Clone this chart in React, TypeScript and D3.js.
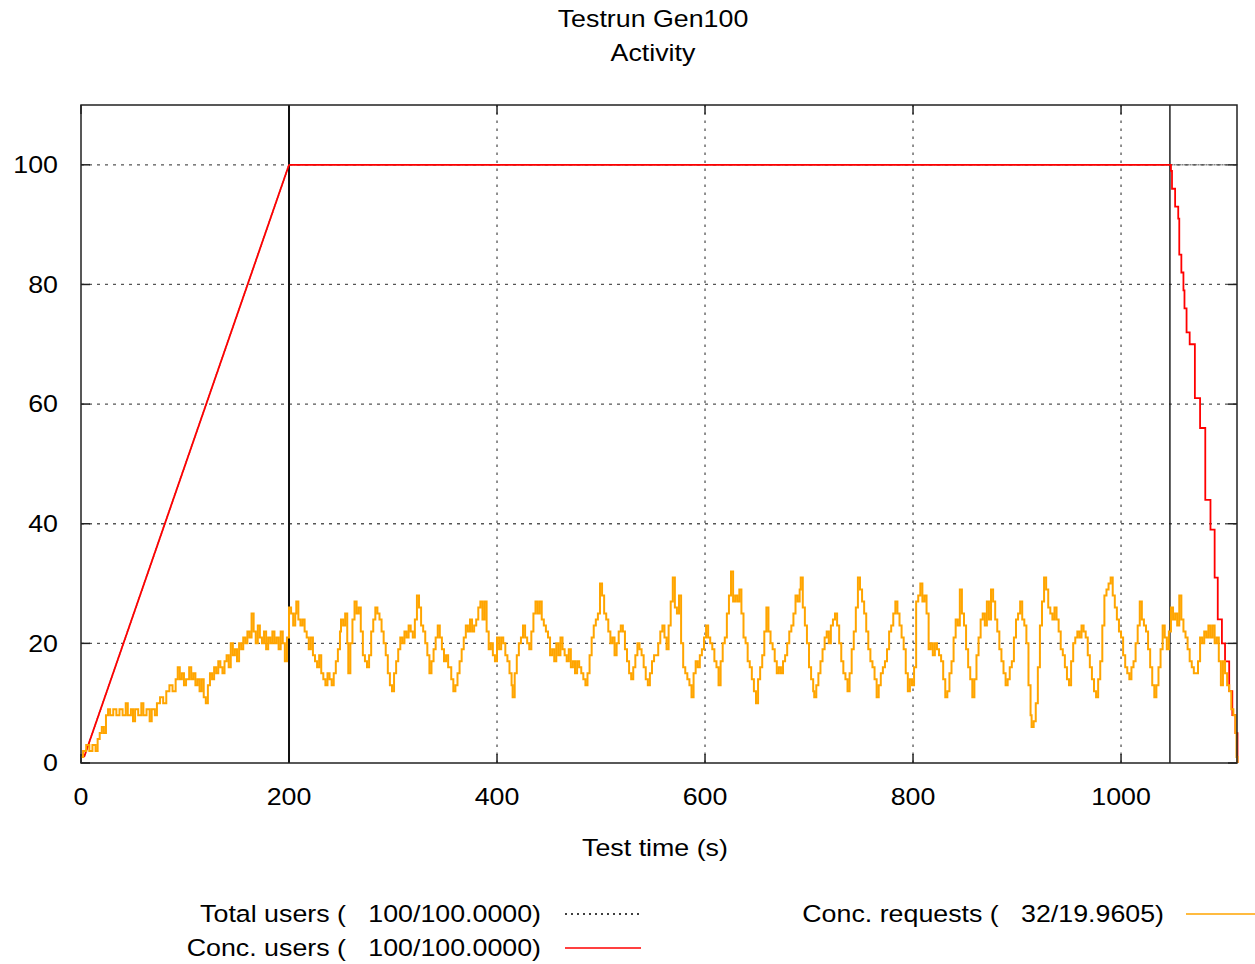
import React from 'react';
import * as d3 from 'd3';

// chart text
const titleLines = ['Testrun Gen100', 'Activity'];
const xLabel = 'Test time (s)';
const xTicks = [0, 200, 400, 600, 800, 1000];
const yTicks = [0, 20, 40, 60, 80, 100];
const phaseMarks = [200, 1047];

// Total users (dotted) : [time, users]
const totalUsers: [number, number][] = [
  [3, 1], [200, 100], [1112, 100],
];

// Conc. users (red) : ramp-up, then plateau and ramp-down
const concUsersRamp: [number, number][] = [
  [3, 1], [200, 100],
];
const concUsersDown: [number, number][] = [
  [200, 100], [1047, 100], [1048, 99], [1049, 96], [1052, 93], [1055, 91], [1056, 85], [1058, 82],
  [1060, 79], [1061, 76], [1063, 72], [1066, 70], [1071, 61], [1076, 56], [1081, 44], [1086, 39],
  [1090, 31], [1093, 24], [1097, 20], [1100, 17], [1104, 12], [1107, 8], [1110, 5], [1112, 0],
];

// Conc. requests (orange) : [time, requests]
const concRequests: [number, number][] = [
  [0, 1], [2, 2], [5, 3], [8, 2], [11, 3], [14, 2], [16, 4], [18, 5], [20, 6], [22, 5],
  [24, 8], [26, 9], [28, 8], [31, 9], [34, 8], [37, 9], [40, 8], [43, 10], [45, 8], [48, 9],
  [50, 7], [52, 9], [55, 8], [58, 10], [60, 8], [63, 9], [66, 7], [68, 9], [71, 8], [73, 10],
  [76, 11], [79, 10], [82, 12], [85, 13], [88, 12], [91, 14], [93, 16], [95, 14], [97, 15], [99, 13],
  [101, 14], [104, 16], [106, 14], [108, 15], [110, 13], [112, 14], [114, 12], [116, 14], [118, 11], [120, 10],
  [122, 13], [124, 15], [126, 14], [128, 16], [130, 15], [132, 17], [134, 16], [136, 15], [138, 17], [140, 18],
  [142, 16], [144, 20], [146, 18], [148, 19], [150, 17], [152, 20], [154, 19], [156, 21], [158, 20], [160, 22],
  [162, 21], [164, 25], [166, 22], [168, 20], [170, 23], [172, 21], [174, 20], [176, 22], [178, 19], [180, 21],
  [182, 20], [184, 22], [186, 20], [188, 21], [190, 19], [192, 22], [194, 20], [196, 17], [198, 21], [200, 26],
  [202, 25], [204, 23], [206, 25], [207, 27], [209, 24], [211, 23], [213, 24], [215, 22], [217, 21], [219, 19],
  [221, 21], [223, 18], [225, 17], [227, 16], [229, 18], [231, 15], [233, 14], [235, 13], [237, 15], [239, 14],
  [241, 13], [243, 15], [245, 17], [247, 19], [249, 22], [250, 24], [252, 23], [254, 25], [256, 20], [257, 15],
  [259, 20], [261, 24], [263, 27], [265, 25], [267, 26], [269, 22], [271, 18], [273, 17], [275, 16], [277, 18],
  [279, 22], [281, 24], [283, 26], [285, 25], [287, 24], [289, 22], [291, 20], [293, 18], [295, 15], [297, 13],
  [299, 12], [301, 15], [303, 17], [305, 19], [307, 21], [309, 20], [311, 22], [313, 21], [315, 23], [317, 22],
  [319, 21], [321, 24], [323, 28], [325, 26], [327, 23], [329, 22], [331, 20], [333, 18], [335, 15], [337, 17],
  [339, 19], [341, 21], [343, 23], [345, 21], [347, 19], [349, 17], [351, 18], [353, 16], [356, 14], [358, 12],
  [360, 13], [362, 15], [364, 17], [366, 19], [368, 21], [370, 23], [372, 22], [374, 24], [376, 22], [378, 23],
  [380, 24], [382, 26], [384, 27], [386, 24], [388, 27], [390, 22], [392, 19], [394, 20], [396, 18], [398, 17],
  [400, 21], [402, 19], [404, 21], [406, 20], [408, 18], [410, 17], [412, 15], [414, 13], [415, 11], [417, 15],
  [419, 18], [421, 20], [423, 21], [425, 23], [427, 21], [429, 20], [431, 19], [433, 22], [435, 25], [437, 27],
  [439, 25], [441, 27], [443, 24], [445, 23], [447, 22], [449, 21], [451, 18], [453, 19], [455, 17], [457, 20],
  [459, 18], [461, 21], [463, 19], [465, 18], [467, 17], [469, 19], [471, 16], [473, 17], [475, 15], [477, 17],
  [479, 16], [481, 15], [483, 14], [485, 13], [487, 15], [489, 18], [491, 21], [493, 23], [495, 24], [497, 25],
  [499, 30], [501, 28], [503, 25], [505, 24], [507, 22], [509, 20], [511, 21], [513, 18], [515, 20], [517, 22],
  [519, 23], [521, 22], [523, 19], [525, 17], [527, 15], [529, 14], [531, 16], [533, 18], [535, 20], [537, 19],
  [539, 18], [541, 16], [543, 14], [545, 13], [547, 15], [549, 17], [551, 18], [553, 18], [555, 20], [557, 22],
  [559, 23], [561, 21], [563, 19], [565, 23], [567, 27], [569, 31], [571, 26], [573, 25], [575, 28], [577, 20],
  [579, 16], [581, 15], [583, 14], [585, 13], [587, 11], [589, 15], [591, 17], [593, 16], [595, 18], [597, 19],
  [599, 21], [601, 23], [603, 21], [605, 20], [607, 19], [609, 17], [611, 16], [613, 13], [615, 17], [617, 20],
  [619, 21], [621, 25], [623, 28], [625, 32], [627, 27], [629, 28], [631, 27], [633, 29], [635, 25], [637, 21],
  [639, 20], [641, 17], [643, 16], [645, 14], [647, 12], [649, 10], [651, 14], [653, 16], [655, 18], [657, 22],
  [659, 26], [661, 22], [663, 20], [665, 19], [667, 17], [669, 15], [671, 16], [673, 15], [675, 17], [677, 18],
  [679, 20], [681, 22], [683, 23], [685, 25], [687, 28], [689, 27], [691, 29], [692, 31], [694, 26], [696, 23],
  [698, 20], [700, 16], [702, 14], [704, 12], [705, 11], [707, 13], [709, 15], [711, 17], [713, 19], [715, 21],
  [717, 22], [719, 20], [721, 23], [723, 24], [725, 25], [727, 23], [729, 20], [731, 17], [733, 15], [735, 14],
  [737, 12], [739, 15], [741, 19], [743, 22], [745, 26], [747, 31], [749, 29], [751, 27], [753, 25], [755, 22],
  [757, 19], [759, 17], [761, 16], [763, 14], [765, 11], [767, 13], [769, 15], [771, 16], [773, 17], [775, 19],
  [777, 22], [779, 23], [781, 25], [783, 27], [785, 25], [787, 23], [789, 21], [791, 19], [793, 15], [795, 12],
  [797, 14], [799, 13], [801, 16], [803, 27], [805, 28], [807, 30], [809, 27], [811, 28], [813, 25], [815, 19],
  [817, 20], [819, 18], [821, 20], [823, 19], [825, 18], [827, 17], [829, 14], [831, 11], [833, 12], [835, 15],
  [837, 17], [839, 21], [841, 24], [843, 23], [845, 29], [847, 25], [849, 23], [851, 19], [853, 16], [855, 14],
  [857, 11], [859, 14], [861, 18], [863, 21], [865, 24], [867, 25], [869, 23], [871, 27], [873, 24], [875, 29],
  [877, 27], [879, 24], [881, 22], [883, 19], [885, 17], [887, 15], [889, 13], [891, 14], [893, 16], [895, 17],
  [897, 21], [899, 24], [901, 25], [903, 27], [905, 24], [907, 23], [909, 20], [911, 13], [913, 8], [914, 6],
  [916, 7], [918, 10], [920, 16], [922, 23], [924, 27], [926, 31], [928, 29], [930, 26], [932, 25], [934, 24],
  [936, 26], [938, 24], [940, 22], [942, 19], [944, 18], [946, 16], [948, 14], [950, 13], [952, 17], [954, 20],
  [956, 21], [958, 22], [960, 21], [962, 23], [964, 22], [966, 21], [968, 18], [970, 16], [972, 14], [974, 12],
  [976, 11], [978, 14], [980, 17], [982, 23], [984, 28], [986, 29], [988, 30], [990, 31], [992, 28], [994, 26],
  [996, 24], [998, 22], [1000, 21], [1002, 18], [1004, 16], [1006, 15], [1008, 14], [1010, 16], [1012, 17], [1014, 20],
  [1016, 23], [1018, 27], [1020, 24], [1022, 23], [1024, 22], [1026, 19], [1028, 16], [1030, 13], [1032, 11], [1034, 13],
  [1036, 16], [1038, 19], [1040, 23], [1042, 21], [1044, 19], [1046, 22], [1048, 26], [1050, 24], [1052, 25], [1054, 23],
  [1056, 28], [1058, 24], [1060, 22], [1062, 21], [1064, 19], [1066, 17], [1068, 16], [1070, 15], [1072, 15], [1074, 17],
  [1076, 21], [1078, 20], [1080, 22], [1082, 21], [1084, 23], [1086, 21], [1088, 23], [1090, 20], [1092, 21], [1094, 17],
  [1096, 13], [1098, 17], [1100, 15], [1102, 13], [1104, 12], [1106, 9], [1108, 8], [1110, 5], [1111, 1], [1112, 0],
];

const legendLeft = [
  { label: 'Total users (   100/100.0000)', color: '#000', dash: '2,4' },
  { label: 'Conc. users (   100/100.0000)', color: '#ff0000', dash: null },
];
const legendRight = [
  { label: 'Conc. requests (   32/19.9605)', color: '#ffa500', dash: null },
];

const W = 1255;
const H = 964;
const FONT = '"Liberation Sans", Arial, sans-serif';
const FS = 23.5;
const SX = 1.14; // text is a bit wider than normal

function Label({ x, y, anchor = 'middle', children }: any) {
  return (
    <text
      transform={`translate(${x},${y}) scale(${SX},1)`}
      textAnchor={anchor}
      dominantBaseline="central"
      fontFamily={FONT}
      fontSize={FS}
      fill="#000"
      style={{ whiteSpace: 'pre' }}
    >
      {children}
    </text>
  );
}

export default function App() {
  const x = d3.scaleLinear().domain([0, 1111.5]).range([81, 1237]);
  const y = d3.scaleLinear().domain([0, 110]).range([763, 105]);
  const [x0, x1] = x.range();
  const [y0, y1] = y.range();

  const lineLin = d3.line<[number, number]>().x(d => x(d[0])).y(d => y(d[1]));
  const lineStep = d3.line<[number, number]>().x(d => x(d[0])).y(d => y(d[1])).curve(d3.curveStepAfter);

  const tick = 9;

  return (
    <svg width={W} height={H} style={{ position: 'absolute', left: 0, top: 0, background: '#fff' }}>
      {/* grid */}
      <g stroke="#555" strokeWidth={1.3} fill="none">
        {yTicks.filter(t => t > 0).map(t => (
          <line key={'gy' + t} x1={x0} x2={x1} y1={y(t)} y2={y(t)} strokeDasharray="3,5" />
        ))}
        {xTicks.filter(t => t > 0).map(t => (
          <line key={'gx' + t} x1={x(t)} x2={x(t)} y1={y0} y2={y1} strokeDasharray="2.5,5.5" />
        ))}
      </g>

      {/* ticks, mirrored */}
      <g stroke="#222" strokeWidth={1.5}>
        {yTicks.map(t => (
          <g key={'ty' + t}>
            <line x1={x0} x2={x0 + tick} y1={y(t)} y2={y(t)} />
            <line x1={x1} x2={x1 - tick} y1={y(t)} y2={y(t)} />
          </g>
        ))}
        {xTicks.map(t => (
          <g key={'tx' + t}>
            <line x1={x(t)} x2={x(t)} y1={y0} y2={y0 - tick} />
            <line x1={x(t)} x2={x(t)} y1={y1} y2={y1 + tick} />
          </g>
        ))}
      </g>

      {/* phase markers */}
      {phaseMarks.map((t, i) => (
        <line key={'pm' + t} x1={x(t)} x2={x(t)} y1={y0} y2={y1} stroke="#111" strokeWidth={i === 0 ? 2 : 1.4} />
      ))}

      {/* series */}
      <path d={lineLin(totalUsers) || ''} fill="none" stroke="#444" strokeWidth={1.4} strokeDasharray="1,1" />
      <path d={lineLin(concUsersRamp) || ''} fill="none" stroke="#ff0000" strokeWidth={1.8} />
      <path d={lineStep(concUsersDown) || ''} fill="none" stroke="#ff0000" strokeWidth={1.8} />
      <path d={lineStep(concRequests) || ''} fill="none" stroke="#ffa500" strokeWidth={2} />

      {/* frame */}
      <rect x={x0} y={y1} width={x1 - x0} height={y0 - y1} fill="none" stroke="#222" strokeWidth={1.5} />

      {/* tick labels */}
      {yTicks.map(t => (
        <Label key={'ly' + t} x={58} y={y(t)} anchor="end">{String(t)}</Label>
      ))}
      {xTicks.map(t => (
        <Label key={'lx' + t} x={x(t)} y={797}>{String(t)}</Label>
      ))}

      {/* titles */}
      <Label x={653} y={19}>{titleLines[0]}</Label>
      <Label x={653} y={53}>{titleLines[1]}</Label>
      <Label x={655} y={848}>{xLabel}</Label>

      {/* legend */}
      {legendLeft.map((l, i) => (
        <g key={'lg' + i}>
          <Label x={541} y={914 + i * 34} anchor="end">{l.label}</Label>
          <line x1={565} x2={641} y1={914 + i * 34} y2={914 + i * 34} stroke={l.color} strokeWidth={1.5}
            strokeDasharray={l.dash || undefined} />
        </g>
      ))}
      {legendRight.map((l, i) => (
        <g key={'lr' + i}>
          <Label x={1164} y={914 + i * 34} anchor="end">{l.label}</Label>
          <line x1={1186} x2={1255} y1={914 + i * 34} y2={914 + i * 34} stroke={l.color} strokeWidth={1.5} />
        </g>
      ))}
    </svg>
  );
}
